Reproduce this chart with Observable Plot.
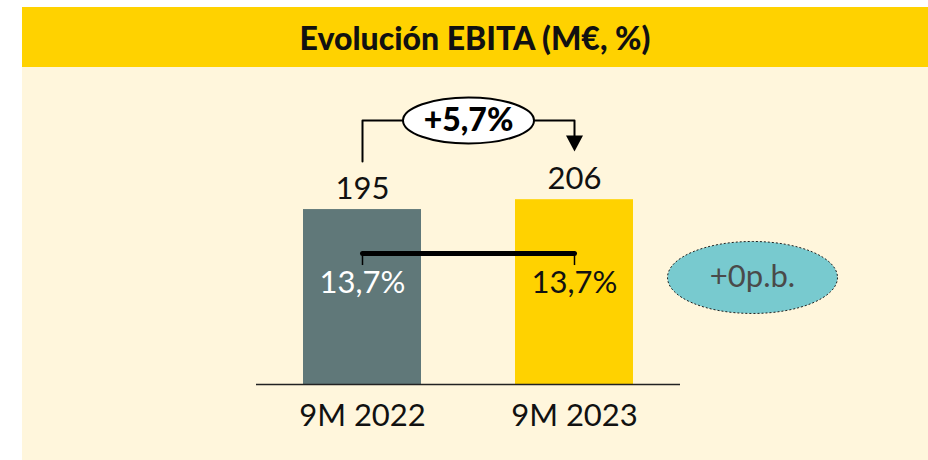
<!DOCTYPE html>
<html>
<head>
<meta charset="utf-8">
<script src="https://cdn.jsdelivr.net/npm/d3@7"></script>
<script src="https://cdn.jsdelivr.net/npm/@observablehq/plot@0.6"></script>
<style>
  html, body { margin: 0; padding: 0; background: #ffffff; }
  body { width: 928px; height: 460px; position: relative; overflow: hidden; font-family: Lato, "Noto Sans", sans-serif; }
  #hdr { position: absolute; left: 22px; top: 7px; width: 906px; height: 60px; background: #FFD200;
         display: flex; align-items: center; justify-content: center; font-weight: 900; font-size: 32px; color: #111; }
  #panel { position: absolute; left: 22px; top: 67px; width: 906px; height: 393px; background: #FFF6DC; }
  #chart { position: absolute; left: 0; top: 67px; }
</style>
</head>
<body>
<div id="hdr">Evolución EBITA (M€, %)</div>
<div id="panel"></div>
<div id="chart"></div>
<script>
// ---- data ----
const categories = ["9M 2022", "9M 2023"];
const ebita = [195, 206];
const margins = [13.7, 13.7];
const growthLabel = "+5,7%";
const marginChangeLabel = "+0p.b.";

// ---- styles / layout (annotation levels in data units) ----
const barColors = ["#607879", "#FFD200"];
const marginTextColors = ["#ffffff", "#111111"];
const L = { arrowY: 294.3, leftStart: 248.6, arrowTip: 259.7, arrowLineEnd: 276,
            marginLine: 146, marginTick: 132.6, marginLabel: 112.6, badgeY: 119.3 };

const fmt = v => String(v).replace(".", ",");
const rows = categories.map((c, i) => ({cat: c, value: ebita[i], margin: margins[i], color: barColors[i], tcolor: marginTextColors[i]}));

function ellipse(rx, ry) {
  const k = 0.5523;
  return { draw(ctx) {
    ctx.moveTo(rx, 0);
    ctx.bezierCurveTo(rx, ry * k, rx * k, ry, 0, ry);
    ctx.bezierCurveTo(-rx * k, ry, -rx, ry * k, -rx, 0);
    ctx.bezierCurveTo(-rx, -ry * k, -rx * k, -ry, 0, -ry);
    ctx.bezierCurveTo(rx * k, -ry, rx, -ry * k, rx, 0);
    ctx.closePath();
  }};
}
const triangleDown = { draw(ctx) { ctx.moveTo(-8.5, -16); ctx.lineTo(8.5, -16); ctx.lineTo(0, 0); ctx.closePath(); } };

const elbow = [
  {x: categories[0], y: L.leftStart},
  {x: categories[0], y: L.arrowY},
  {x: categories[1], y: L.arrowY},
  {x: categories[1], y: L.arrowLineEnd}
];

const chart = Plot.plot({
  width: 928, height: 393,
  marginLeft: 256, marginRight: 248, marginTop: 3, marginBottom: 76,
  style: { background: "transparent", fontFamily: "Lato, 'Noto Sans', sans-serif", overflow: "visible", color: "#111" },
  x: { domain: categories, paddingInner: 0.443, paddingOuter: 0.2215, axis: null },
  y: { domain: [0, 350], axis: null },
  color: { type: "identity" },
  marks: [
    Plot.barY(rows, {x: "cat", y: "value", fill: "color"}),
    Plot.ruleY([0], {stroke: "#222", strokeWidth: 1.5}),
    Plot.axisX({tickSize: 0, tickPadding: 19, fontSize: 31, label: null, fill: "#111"}),
    Plot.text(rows, {x: "cat", y: "value", text: d => String(d.value), dy: -11, lineAnchor: "bottom", fontSize: 31, fill: "#111"}),
    Plot.line(rows, {x: "cat", y: () => L.marginLine, stroke: "#000", strokeWidth: 5, strokeLinecap: "round"}),
    Plot.ruleX(rows, {x: "cat", y1: L.marginLine, y2: L.marginTick, stroke: "#000", strokeWidth: 1.5}),
    Plot.text(rows, {x: "cat", y: () => L.marginLabel, text: d => fmt(d.margin) + "%", fill: "tcolor", fontSize: 31}),
    Plot.line(elbow, {x: "x", y: "y", stroke: "#000", strokeWidth: 2}),
    Plot.dot([categories[1]], {x: d => d, y: () => L.arrowTip, symbol: triangleDown, fill: "#000", stroke: "none"}),
    Plot.dot([growthLabel], {x: () => categories[0], y: () => L.arrowY, dx: 106, symbol: ellipse(65.5, 23), fill: "#fff", stroke: "#000", strokeWidth: 2}),
    Plot.text([growthLabel], {x: () => categories[0], y: () => L.arrowY, dx: 106, text: d => d, fontSize: 32, fontWeight: 900, fill: "#000"}),
    Plot.dot([marginChangeLabel], {x: () => categories[1], y: () => L.badgeY, dx: 178, symbol: ellipse(85, 36), fill: "#78CACF", stroke: "#222", strokeWidth: 1, strokeDasharray: "2,2"}),
    Plot.text([marginChangeLabel], {x: () => categories[1], y: () => L.badgeY, dx: 178, text: d => d, fontSize: 31, fill: "#4a4a4a"})
  ]
});
document.getElementById("chart").appendChild(chart);
</script>
</body>
</html>
